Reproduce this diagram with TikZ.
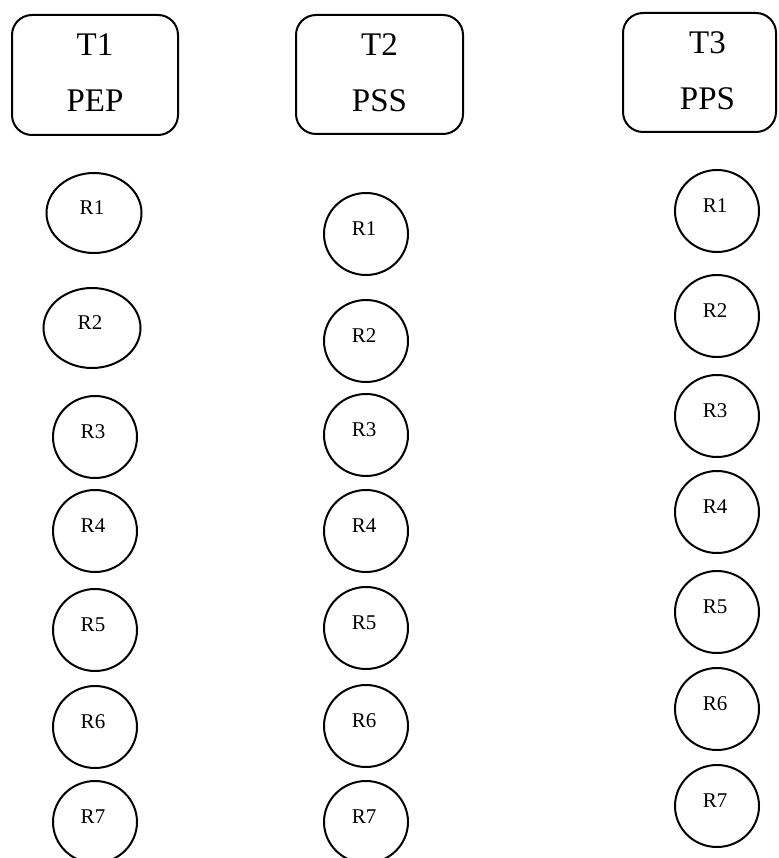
\documentclass[tikz,border=0pt]{standalone}
\usepackage{fontspec}
\setmainfont{Liberation Serif}
\usetikzlibrary{shapes.geometric}

\tikzset{
  task/.style={draw, line width=2pt, rounded corners=20pt, inner sep=0pt,
    align=center, font=\fontsize{33}{56}\selectfont},
  res/.style={draw, ellipse, line width=2pt, inner sep=0pt,
    minimum width=84pt, minimum height=82pt},
  rlab/.style={font=\fontsize{21}{24}\selectfont, yshift=5pt, xshift=-2pt}
}

\begin{document}
\begin{tikzpicture}[x=1pt, y=-1pt]
  \useasboundingbox (0,0) rectangle (778,858);

  % task boxes
  \node[task, minimum width=166pt, minimum height=120pt] (t1) at (95,75)
    {\raisebox{4pt}{T1}\\\raisebox{4pt}{PEP}};
  \node[task, minimum width=167pt, minimum height=119pt] (t2) at (379.5,74.5)
    {\raisebox{4pt}{T2}\\\raisebox{4pt}{PSS}};
  \node[task, minimum width=153pt, minimum height=119pt] (t3) at (699.5,72.5)
    {\hspace*{16pt}\raisebox{4pt}{T3}\\\hspace*{16pt}\raisebox{4pt}{PPS}};

  % first column
  \node[res, minimum width=95pt, minimum height=80pt, label={[rlab]center:R1}] (a1) at (94,213) {};
  \node[res, minimum width=97pt, minimum height=80pt, label={[rlab]center:R2}] (a2) at (92,328) {};
  \node[res, label={[rlab]center:R3}] (a3) at (95,437) {};
  \node[res, label={[rlab]center:R4}] (a4) at (95,531) {};
  \node[res, label={[rlab]center:R5}] (a5) at (95,630) {};
  \node[res, label={[rlab]center:R6}] (a6) at (95,727) {};
  \node[res, label={[rlab]center:R7}] (a7) at (95,822) {};

  % second column
  \node[res, label={[rlab]center:R1}] (b1) at (366,234) {};
  \node[res, label={[rlab]center:R2}] (b2) at (366,341) {};
  \node[res, label={[rlab]center:R3}] (b3) at (366,435) {};
  \node[res, label={[rlab]center:R4}] (b4) at (366,531) {};
  \node[res, label={[rlab]center:R5}] (b5) at (366,628) {};
  \node[res, label={[rlab]center:R6}] (b6) at (366,726) {};
  \node[res, label={[rlab]center:R7}] (b7) at (366,822) {};

  % third column
  \node[res, label={[rlab]center:R1}] (c1) at (717,211) {};
  \node[res, label={[rlab]center:R2}] (c2) at (717,316) {};
  \node[res, label={[rlab]center:R3}] (c3) at (717,416) {};
  \node[res, label={[rlab]center:R4}] (c4) at (717,512) {};
  \node[res, label={[rlab]center:R5}] (c5) at (717,612) {};
  \node[res, label={[rlab]center:R6}] (c6) at (717,709) {};
  \node[res, label={[rlab]center:R7}] (c7) at (717,806) {};
\end{tikzpicture}
\end{document}
